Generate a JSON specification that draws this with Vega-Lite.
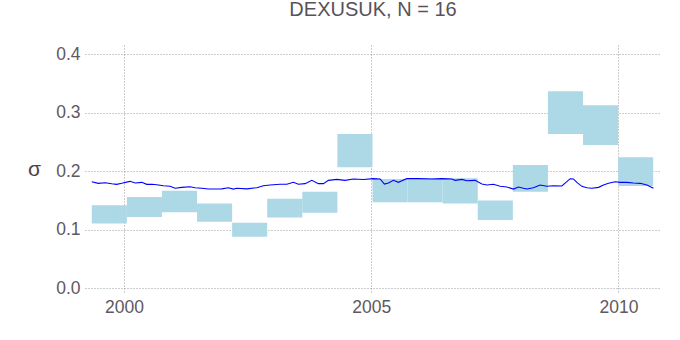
{
  "$schema": "https://vega.github.io/schema/vega-lite/v6.json",
  "width": 576,
  "height": 248,
  "autosize": {"type": "none"},
  "padding": {"left": 85, "top": 45, "right": 19, "bottom": 47},
  "background": "white",
  "title": {
    "text": "DEXUSUK, N = 16",
    "fontSize": 20,
    "font": "Liberation Sans",
    "fontWeight": "normal",
    "color": "#58525a",
    "anchor": "middle",
    "baseline": "alphabetic",
    "offset": 9
  },
  "config": {
    "view": {"stroke": null},
    "axis": {
      "labelFont": "Liberation Sans",
      "labelFontSize": 17.5,
      "labelColor": "#5f5862",
      "ticks": false,
      "domain": false,
      "grid": true,
      "gridColor": "#9a9a9a",
      "gridDash": [1, 2],
      "gridWidth": 1,
      "gridOpacity": 1
    }
  },
  "datasets": {
    "boxes": [
      {"start": 1999.347, "end": 2000.057, "lo": 0.111, "hi": 0.142},
      {"start": 2000.057, "end": 2000.766, "lo": 0.122, "hi": 0.156},
      {"start": 2000.766, "end": 2001.476, "lo": 0.130, "hi": 0.167},
      {"start": 2001.476, "end": 2002.186, "lo": 0.114, "hi": 0.145},
      {"start": 2002.186, "end": 2002.895, "lo": 0.088, "hi": 0.112},
      {"start": 2002.895, "end": 2003.605, "lo": 0.121, "hi": 0.153},
      {"start": 2003.605, "end": 2004.315, "lo": 0.129, "hi": 0.165},
      {"start": 2004.315, "end": 2005.025, "lo": 0.207, "hi": 0.264},
      {"start": 2005.025, "end": 2005.734, "lo": 0.147, "hi": 0.187},
      {"start": 2005.734, "end": 2006.444, "lo": 0.147, "hi": 0.188},
      {"start": 2006.444, "end": 2007.154, "lo": 0.145, "hi": 0.188},
      {"start": 2007.154, "end": 2007.864, "lo": 0.117, "hi": 0.150},
      {"start": 2007.864, "end": 2008.573, "lo": 0.165, "hi": 0.211},
      {"start": 2008.573, "end": 2009.283, "lo": 0.264, "hi": 0.337},
      {"start": 2009.283, "end": 2009.993, "lo": 0.245, "hi": 0.313},
      {"start": 2009.993, "end": 2010.702, "lo": 0.175, "hi": 0.224}
    ],
    "vol": [
      {"t": 1999.347, "s": 0.1822},
      {"t": 1999.480, "s": 0.1795},
      {"t": 1999.616, "s": 0.1805},
      {"t": 1999.751, "s": 0.1788},
      {"t": 1999.852, "s": 0.1778},
      {"t": 1999.953, "s": 0.1795},
      {"t": 2000.121, "s": 0.1829},
      {"t": 2000.223, "s": 0.1800},
      {"t": 2000.358, "s": 0.1812},
      {"t": 2000.459, "s": 0.1778},
      {"t": 2000.560, "s": 0.1778},
      {"t": 2000.662, "s": 0.1772},
      {"t": 2000.795, "s": 0.1754},
      {"t": 2000.931, "s": 0.1744},
      {"t": 2001.032, "s": 0.1710},
      {"t": 2001.167, "s": 0.1726},
      {"t": 2001.335, "s": 0.1737},
      {"t": 2001.436, "s": 0.1720},
      {"t": 2001.572, "s": 0.1710},
      {"t": 2001.705, "s": 0.1697},
      {"t": 2001.841, "s": 0.1697},
      {"t": 2001.977, "s": 0.1700},
      {"t": 2002.110, "s": 0.1720},
      {"t": 2002.211, "s": 0.1697},
      {"t": 2002.280, "s": 0.1710},
      {"t": 2002.482, "s": 0.1700},
      {"t": 2002.685, "s": 0.1720},
      {"t": 2002.818, "s": 0.1754},
      {"t": 2002.954, "s": 0.1766},
      {"t": 2003.156, "s": 0.1778},
      {"t": 2003.292, "s": 0.1780},
      {"t": 2003.425, "s": 0.1812},
      {"t": 2003.526, "s": 0.1780},
      {"t": 2003.662, "s": 0.1790},
      {"t": 2003.797, "s": 0.1846},
      {"t": 2003.931, "s": 0.1790},
      {"t": 2004.032, "s": 0.1790},
      {"t": 2004.133, "s": 0.1846},
      {"t": 2004.303, "s": 0.1863},
      {"t": 2004.471, "s": 0.1846},
      {"t": 2004.639, "s": 0.1868},
      {"t": 2004.841, "s": 0.1860},
      {"t": 2005.043, "s": 0.1875},
      {"t": 2005.179, "s": 0.1870},
      {"t": 2005.266, "s": 0.1783},
      {"t": 2005.347, "s": 0.1800},
      {"t": 2005.448, "s": 0.1846},
      {"t": 2005.549, "s": 0.1812},
      {"t": 2005.618, "s": 0.1838},
      {"t": 2005.719, "s": 0.1875},
      {"t": 2005.954, "s": 0.1875},
      {"t": 2006.225, "s": 0.1870},
      {"t": 2006.427, "s": 0.1875},
      {"t": 2006.630, "s": 0.1870},
      {"t": 2006.696, "s": 0.1846},
      {"t": 2006.832, "s": 0.1863},
      {"t": 2006.933, "s": 0.1838},
      {"t": 2007.101, "s": 0.1846},
      {"t": 2007.237, "s": 0.1783},
      {"t": 2007.338, "s": 0.1766},
      {"t": 2007.471, "s": 0.1778},
      {"t": 2007.607, "s": 0.1744},
      {"t": 2007.742, "s": 0.1732},
      {"t": 2007.876, "s": 0.1697},
      {"t": 2007.977, "s": 0.1732},
      {"t": 2008.078, "s": 0.1710},
      {"t": 2008.147, "s": 0.1697},
      {"t": 2008.280, "s": 0.1720},
      {"t": 2008.416, "s": 0.1766},
      {"t": 2008.551, "s": 0.1744},
      {"t": 2008.685, "s": 0.1754},
      {"t": 2008.855, "s": 0.1750},
      {"t": 2008.956, "s": 0.1823},
      {"t": 2009.023, "s": 0.1874},
      {"t": 2009.090, "s": 0.1870},
      {"t": 2009.158, "s": 0.1810},
      {"t": 2009.260, "s": 0.1744},
      {"t": 2009.361, "s": 0.1720},
      {"t": 2009.462, "s": 0.1710},
      {"t": 2009.596, "s": 0.1726},
      {"t": 2009.697, "s": 0.1766},
      {"t": 2009.798, "s": 0.1795},
      {"t": 2009.933, "s": 0.1823},
      {"t": 2010.034, "s": 0.1812},
      {"t": 2010.170, "s": 0.1812},
      {"t": 2010.303, "s": 0.1800},
      {"t": 2010.439, "s": 0.1795},
      {"t": 2010.575, "s": 0.1766},
      {"t": 2010.708, "s": 0.1710}
    ]
  },
  "layer": [
    {
      "data": {"name": "boxes"},
      "mark": {"type": "rect", "fill": "#add8e6"},
      "encoding": {
        "x": {
          "field": "start", "type": "quantitative",
          "scale": {"domain": [1999.21, 2010.86], "nice": false, "zero": false},
          "axis": {"values": [2000, 2005, 2010], "format": "d", "labelPadding": 5, "title": null}
        },
        "x2": {"field": "end"},
        "y": {
          "field": "lo", "type": "quantitative",
          "scale": {"domain": [-0.008, 0.416], "nice": false, "zero": false},
          "axis": {
            "values": [0, 0.1, 0.2, 0.3, 0.4], "format": ".1f", "labelPadding": 5,
            "title": "σ", "titleAngle": 0, "titleFont": "Liberation Sans", "titleFontSize": 21,
            "titleFontWeight": "normal", "titleColor": "#4a4450",
            "titleAlign": "center", "titleBaseline": "middle", "titleX": -51, "titleY": 124
          }
        },
        "y2": {"field": "hi"}
      }
    },
    {
      "data": {"name": "vol"},
      "mark": {"type": "line", "color": "#0000ff", "strokeWidth": 1.1},
      "encoding": {
        "x": {"field": "t", "type": "quantitative"},
        "y": {"field": "s", "type": "quantitative"}
      }
    }
  ]
}
